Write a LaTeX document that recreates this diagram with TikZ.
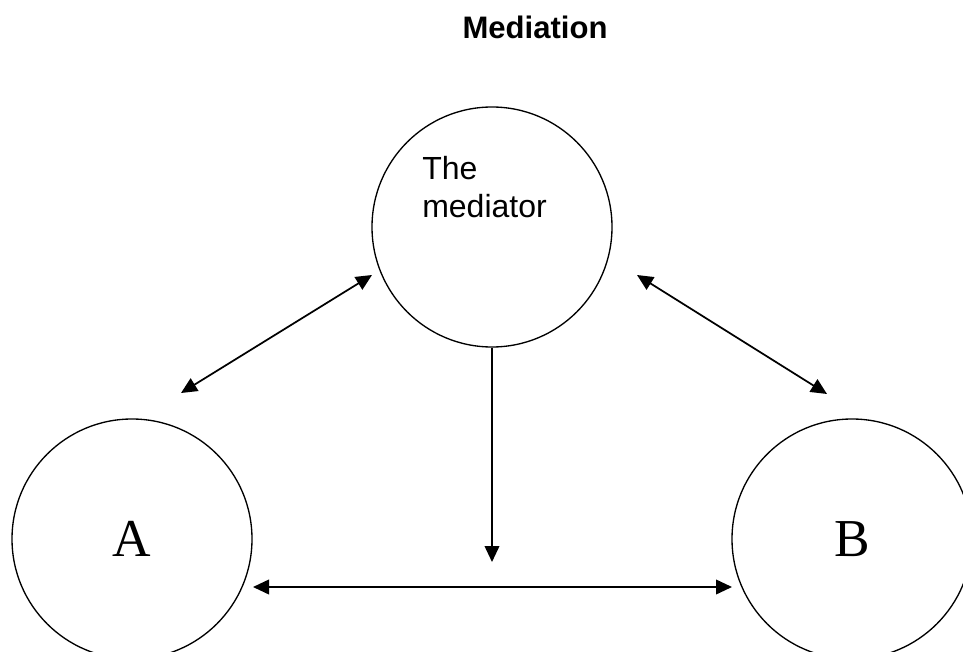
\documentclass[tikz,border=0pt]{standalone}
\usepackage{fontspec}
\setmainfont{Liberation Serif}
\newfontfamily\arialfont{Liberation Sans}
\usetikzlibrary{arrows.meta}
\begin{document}
\begin{tikzpicture}[x=0.75pt,y=-0.75pt,
  circ/.style={circle,draw,line width=1pt,minimum size=180pt,inner sep=0pt},
  tip/.style={Triangle[length=12pt,width=11pt]},
  both/.style={line width=1.3pt,{Triangle[length=12pt,width=11pt]}-{Triangle[length=12pt,width=11pt]}},
  oneway/.style={line width=1.3pt,-{Triangle[length=12pt,width=11pt]}}]
\useasboundingbox (0,0) rectangle (963,652);
\clip (0,0) rectangle (963,652);
\node[font=\arialfont\bfseries\fontsize{23.3pt}{28pt}\selectfont, anchor=base] (title) at (535,39) {Mediation};
\node[circ] (M) at (492,227) {};
\node[circ, font=\fontsize{40pt}{48pt}\selectfont] (A) at (132,539) {A};
\node[circ, font=\fontsize{40pt}{48pt}\selectfont] (B) at (852,539) {B};
\node[anchor=north west, inner sep=0pt, align=left, font=\arialfont\fontsize{24pt}{28.5pt}\selectfont] (mtext) at (422,156) {The\\mediator};
\coordinate (l1) at (181,393);
\coordinate (l2) at (372,275);
\coordinate (r1) at (637,275);
\coordinate (r2) at (827,394);
\coordinate (vdown) at (492,562);
\coordinate (h1) at (253,587);
\coordinate (h2) at (732,587);
\draw[both] (l1) -- (l2);
\draw[both] (r1) -- (r2);
\draw[oneway] (M.south) -- (vdown);
\draw[both] (h1) -- (h2);
\end{tikzpicture}
\end{document}
